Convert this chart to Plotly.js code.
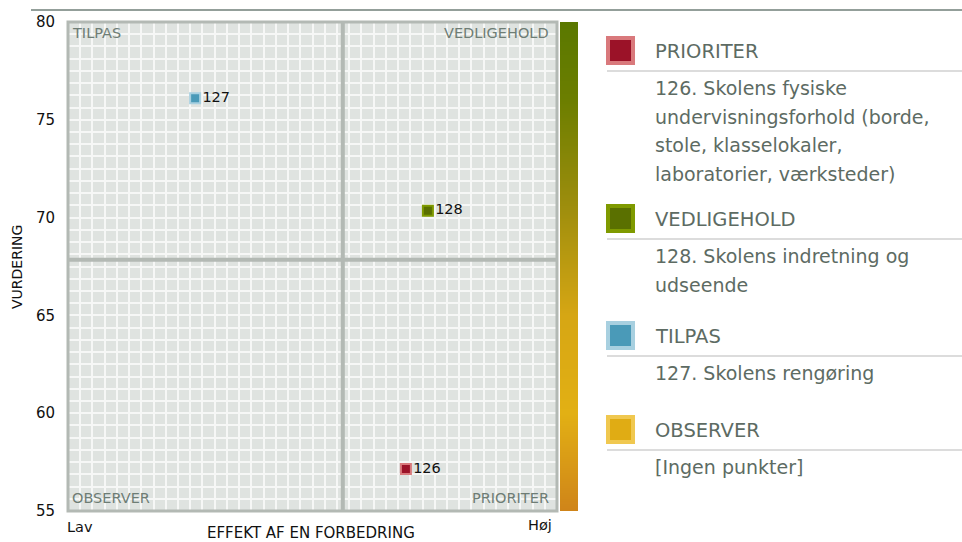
<!DOCTYPE html>
<html>
<head>
<meta charset="utf-8">
<script src="https://cdn.plot.ly/plotly-3.0.1.min.js"></script>
<style>
  html, body { margin: 0; padding: 0; background: #fff; }
  #chart { width: 962px; height: 542px; }
</style>
</head>
<body>
<div id="chart"></div>
<script>
// Points: id, effect (0-100, Lav..Høj) and rating
let pointIds = ['126', '127', '128'];
let effectValues = [69.1, 26.0, 73.6];
let ratingValues = [57.15, 76.1, 70.35];
let pointFill = ['#9b1228', '#4a9ab8', '#5a7000'];
let pointBorder = ['#d9797c', '#a8d0e0', '#7f9a00'];

// Quadrant split
let effectSplit = 56.2;
let ratingSplit = 67.85;

// Legend content
let quadrantNames = ['PRIORITER', 'VEDLIGEHOLD', 'TILPAS', 'OBSERVER'];
let quadrantFill = ['#9b1228', '#5a7000', '#4a9ab8', '#e0ac14'];
let quadrantBorder = ['#d9797c', '#7f9a00', '#a8d0e0', '#f0c850'];
let quadrantItems = [
    ['126. Skolens fysiske', 'undervisningsforhold (borde,', 'stole, klasselokaler,', 'laboratorier, værksteder)'],
    ['128. Skolens indretning og', 'udseende'],
    ['127. Skolens rengøring'],
    ['[Ingen punkter]']
];

// Gradient bar levels (bottom -> top)
let barLevels = [0, 1, 2, 3, 4, 5, 6, 7, 8, 9, 10];

let yTicks = [55, 60, 65, 70, 75, 80];

// pixel -> paper helpers (plot area: left 68, top 22, paper width 510, height 489)
const px = x => (x - 68) / 510;
const py = y => (511 - y) / 489;

const FONT = 'DejaVu Sans, Verdana, sans-serif';
const GREYTXT = '#5d6b63';
const BORDER = '#b3b9b4';

let scatter = {
    x: effectValues,
    y: ratingValues,
    text: pointIds,
    type: 'scatter',
    mode: 'markers+text',
    textposition: 'middle right',
    textfont: { family: FONT, size: 14.5, color: '#111' },
    marker: {
        symbol: 'square',
        size: 10,
        color: pointFill,
        line: { color: pointBorder, width: 2 }
    },
    hoverinfo: 'skip',
    cliponaxis: false
};

let gradientBar = {
    type: 'heatmap',
    x: [0],
    y: barLevels,
    z: barLevels.map(v => [v]),
    xaxis: 'x2',
    yaxis: 'y2',
    zsmooth: 'best',
    showscale: false,
    hoverinfo: 'skip',
    colorscale: [
        [0, '#cf8419'], [0.2, '#e2b014'], [0.4, '#d6a614'],
        [0.64, '#9a8c0c'], [0.84, '#6c7e00'], [1, '#5a7800']
    ]
};

let shapes = [
    // top rule
    { type: 'line', xref: 'paper', yref: 'paper', x0: px(31), x1: px(962), y0: py(10), y1: py(10),
      line: { color: '#6f7f78', width: 1.5 } },
    // quadrant dividers
    { type: 'line', xref: 'x', yref: 'paper', x0: effectSplit, x1: effectSplit, y0: 0, y1: 1,
      line: { color: BORDER, width: 4 } },
    { type: 'line', xref: 'paper', yref: 'y', x0: 0, x1: 489 / 510, y0: ratingSplit, y1: ratingSplit,
      line: { color: BORDER, width: 4 } },
    // plot frame
    { type: 'rect', xref: 'paper', yref: 'paper', x0: 0, x1: 489 / 510, y0: 0, y1: 1,
      line: { color: BORDER, width: 3 } }
];

let annotations = [];

// quadrant labels in the corners
let cornerLabels = [
    { text: 'TILPAS', x: px(70), y: py(33), xanchor: 'left' },
    { text: 'VEDLIGEHOLD', x: px(551), y: py(33), xanchor: 'right' },
    { text: 'OBSERVER', x: px(70), y: py(498), xanchor: 'left' },
    { text: 'PRIORITER', x: px(551), y: py(498), xanchor: 'right' }
];
cornerLabels.forEach(c => annotations.push({
    text: c.text, x: c.x, y: c.y, xref: 'paper', yref: 'paper',
    xanchor: c.xanchor, yanchor: 'middle', showarrow: false,
    font: { family: FONT, size: 14.5, color: '#6e7d75' }
}));

// axis end labels and titles
annotations.push(
    { text: 'Lav', x: px(65), y: py(527), xref: 'paper', yref: 'paper', xanchor: 'left', yanchor: 'middle',
      showarrow: false, font: { family: FONT, size: 14.5, color: '#111' } },
    { text: 'Høj', x: px(554), y: py(525), xref: 'paper', yref: 'paper', xanchor: 'right', yanchor: 'middle',
      showarrow: false, font: { family: FONT, size: 14.5, color: '#111' } },
    { text: 'EFFEKT AF EN FORBEDRING', x: px(311), y: py(533), xref: 'paper', yref: 'paper',
      xanchor: 'center', yanchor: 'middle', showarrow: false, font: { family: FONT, size: 15, color: '#111' } },
    { text: 'VURDERING', x: px(17), y: py(267), xref: 'paper', yref: 'paper', textangle: -90,
      xanchor: 'center', yanchor: 'middle', showarrow: false, font: { family: FONT, size: 14, color: '#111' } }
);

// right hand legend
let headerY = [51, 219, 336, 430];
quadrantNames.forEach((name, i) => {
    let hy = headerY[i];
    shapes.push({ type: 'rect', xref: 'paper', yref: 'paper',
        x0: px(608), x1: px(633), y0: py(hy - 13), y1: py(hy + 12),
        fillcolor: quadrantFill[i], line: { color: quadrantBorder[i], width: 4 } });
    shapes.push({ type: 'line', xref: 'paper', yref: 'paper',
        x0: px(607), x1: px(962), y0: py(hy + 20), y1: py(hy + 20),
        line: { color: '#dcdcdc', width: 2 } });
    annotations.push({ text: name, x: px(653), y: py(hy), xref: 'paper', yref: 'paper',
        xanchor: 'left', yanchor: 'middle', showarrow: false,
        font: { family: FONT, size: 19.5, color: GREYTXT } });
    quadrantItems[i].forEach((line, j) => annotations.push({
        text: line, x: px(653), y: py(hy + 37 + j * 28.5), xref: 'paper', yref: 'paper',
        xanchor: 'left', yanchor: 'middle', showarrow: false,
        font: { family: FONT, size: 19, color: GREYTXT } }));
});

let layout = {
    width: 962,
    height: 542,
    margin: { l: 68, r: 384, t: 22, b: 31, pad: 0 },
    paper_bgcolor: '#fff',
    plot_bgcolor: '#dfe3e0',
    showlegend: false,
    hovermode: false,
    xaxis: {
        domain: [0, 489 / 510],
        range: [0, 100],
        dtick: 2.5,
        showticklabels: false,
        ticks: '',
        showgrid: true,
        gridcolor: '#f6f7f6',
        gridwidth: 2,
        zeroline: false,
        showline: false,
        fixedrange: true
    },
    yaxis: {
        range: [55, 80],
        tickvals: yTicks,
        ticks: '',
        ticklabelstandoff: 12,
        tickfont: { family: FONT, size: 15, color: '#111' },
        showgrid: true,
        gridcolor: '#f6f7f6',
        gridwidth: 2,
        minor: { dtick: 0.625, showgrid: true, gridcolor: '#f6f7f6', gridwidth: 2 },
        zeroline: false,
        showline: false,
        fixedrange: true
    },
    xaxis2: {
        domain: [492 / 510, 1],
        anchor: 'y2',
        range: [-0.5, 0.5],
        visible: false,
        fixedrange: true
    },
    yaxis2: {
        domain: [0, 1],
        anchor: 'x2',
        range: [0, 10],
        visible: false,
        fixedrange: true
    },
    shapes: shapes,
    annotations: annotations
};

Plotly.newPlot('chart', [gradientBar, scatter], layout, { displayModeBar: false, staticPlot: true });
</script>
</body>
</html>
